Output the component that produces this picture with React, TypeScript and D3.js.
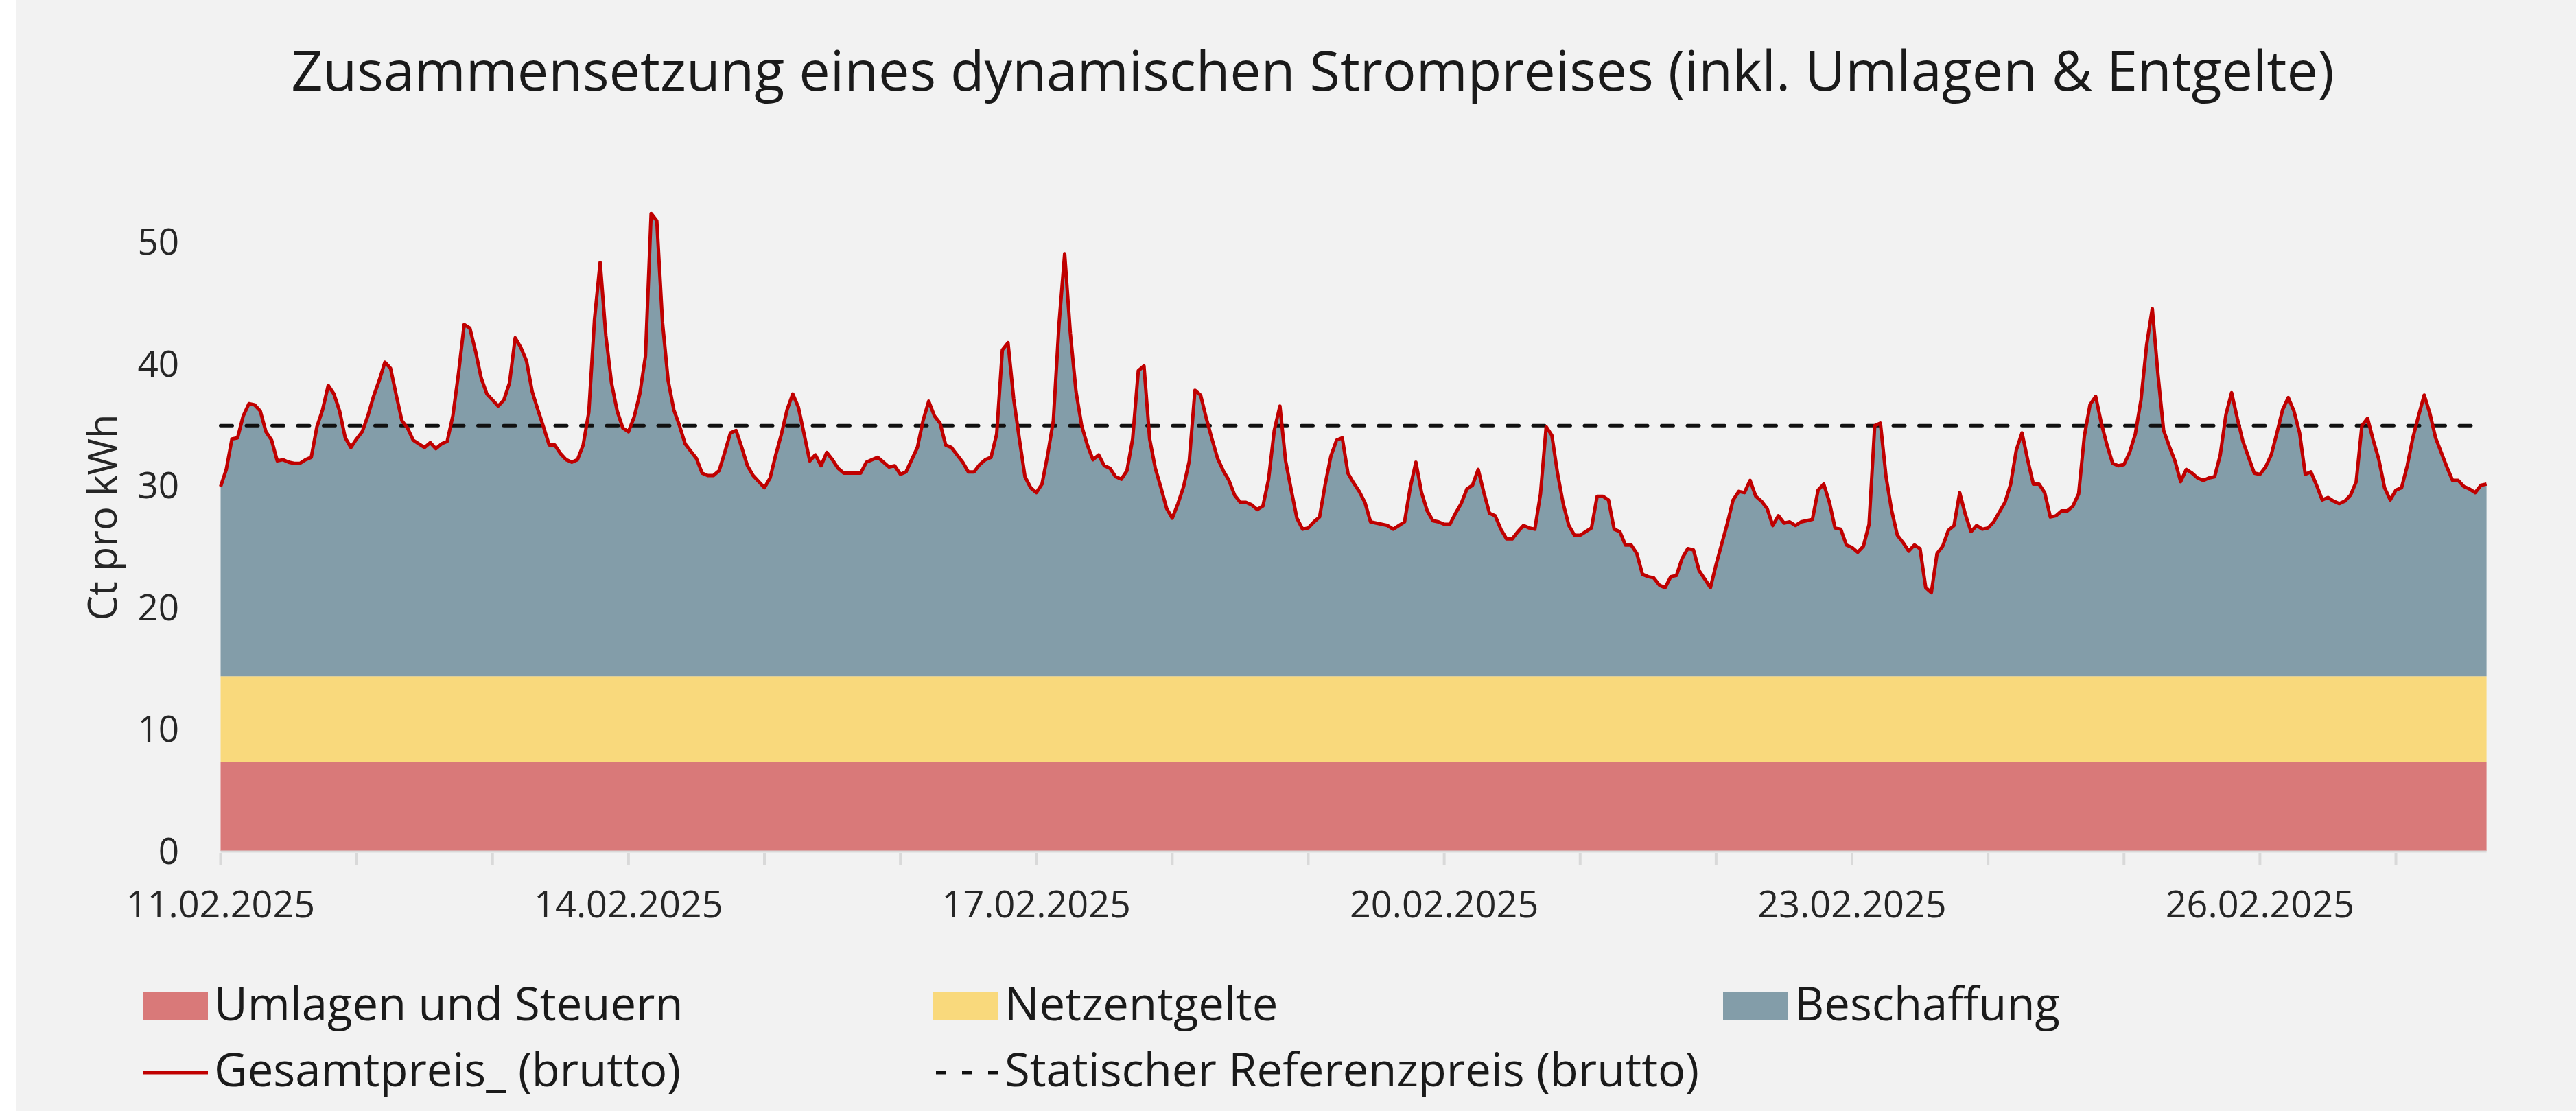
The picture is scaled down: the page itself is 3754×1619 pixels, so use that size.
import * as d3 from "d3";

const WIDTH = 3754;
const HEIGHT = 1619;
const PLOT = { left: 321.5, right: 3623.6, top: 352, bottom: 1240 };
const FONT = "'Open Sans', 'Noto Sans', sans-serif";

const START = new Date(2025, 1, 11, 0);

const SERIES_NAMES = [
  "Umlagen und Steuern",
  "Netzentgelte",
  "Beschaffung",
  "Gesamtpreis_ (brutto)",
  "Statischer Referenzpreis (brutto)",
];
const COLORS = ["#d97979", "#f9d97c", "#839da9", "#c00000", "#111111"];

// Ct/kWh, constant over the period
const umlagenUndSteuern = 7.3;
const netzentgelte = 7.05;
const referenzpreis = 34.9;

// hourly total price (Ct/kWh), 11.02.2025 00:00 .. 27.02.2025 16:00
const gesamtpreis = [
  // 11.02
  29.9, 31.3, 33.8, 33.9, 35.7, 36.7, 36.6, 36.1, 34.4, 33.7, 32.0, 32.1,
  31.9, 31.8, 31.8, 32.1, 32.3, 34.8, 36.2, 38.2, 37.5, 36.1, 33.9, 33.1,
  // 12.02
  33.8, 34.4, 35.7, 37.3, 38.6, 40.1, 39.6, 37.4, 35.3, 34.7, 33.7, 33.4,
  33.1, 33.5, 33.0, 33.4, 33.6, 35.7, 39.2, 43.2, 42.9, 41.0, 38.8, 37.5,
  // 13.02
  37.0, 36.5, 37.0, 38.4, 42.1, 41.3, 40.2, 37.7, 36.2, 34.8, 33.3, 33.3,
  32.6, 32.1, 31.9, 32.1, 33.3, 36.0, 43.6, 48.3, 42.3, 38.4, 36.1, 34.7,
  // 14.02
  34.4, 35.6, 37.5, 40.6, 52.3, 51.7, 43.4, 38.6, 36.2, 34.9, 33.4, 32.8,
  32.2, 31.0, 30.8, 30.8, 31.2, 32.7, 34.3, 34.5, 33.1, 31.6, 30.8, 30.3,
  // 15.02
  29.8, 30.6, 32.5, 34.2, 36.2, 37.5, 36.4, 34.2, 32.0, 32.5, 31.6, 32.7,
  32.1, 31.4, 31.0, 31.0, 31.0, 31.0, 31.9, 32.1, 32.3, 31.9, 31.5, 31.6,
  // 16.02
  30.9, 31.1, 32.1, 33.1, 35.3, 36.9, 35.7, 35.1, 33.3, 33.1, 32.5, 31.9,
  31.1, 31.1, 31.7, 32.1, 32.3, 34.2, 41.1, 41.7, 37.1, 33.8, 30.7, 29.8,
  // 17.02
  29.4, 30.1, 32.5, 35.3, 43.2, 49.0, 42.5, 37.7, 34.9, 33.3, 32.1, 32.5,
  31.6, 31.4, 30.7, 30.5, 31.2, 33.8, 39.4, 39.8, 33.8, 31.4, 29.8, 28.1,
  // 18.02
  27.3, 28.5, 29.9, 32.0, 37.8, 37.4, 35.5, 33.8, 32.2, 31.2, 30.4, 29.2,
  28.6, 28.6, 28.4, 28.0, 28.3, 30.5, 34.5, 36.5, 32.0, 29.6, 27.3, 26.4,
  // 19.02
  26.5, 27.0, 27.4, 30.1, 32.4, 33.7, 33.9, 31.0, 30.2, 29.5, 28.6, 27.0,
  26.9, 26.8, 26.7, 26.4, 26.7, 27.0, 29.8, 31.9, 29.4, 27.9, 27.1, 27.0,
  // 20.02
  26.8, 26.8, 27.7, 28.5, 29.7, 30.0, 31.3, 29.4, 27.7, 27.5, 26.4, 25.6,
  25.6, 26.2, 26.7, 26.5, 26.4, 29.3, 34.8, 34.1, 31.0, 28.5, 26.7, 25.9,
  // 21.02
  25.9, 26.2, 26.5, 29.1, 29.1, 28.8, 26.4, 26.2, 25.1, 25.1, 24.4, 22.7,
  22.5, 22.4, 21.8, 21.6, 22.5, 22.6, 24.0, 24.8, 24.7, 23.0, 22.3, 21.6,
  // 22.02
  23.5, 25.2, 26.9, 28.8, 29.5, 29.4, 30.4, 29.1, 28.7, 28.1, 26.7, 27.5,
  26.9, 27.0, 26.7, 27.0, 27.1, 27.2, 29.6, 30.1, 28.6, 26.5, 26.4, 25.1,
  // 23.02
  24.9, 24.5, 25.0, 26.8, 34.9, 35.1, 30.7, 27.9, 25.9, 25.3, 24.6, 25.1,
  24.8, 21.6, 21.2, 24.4, 25.0, 26.3, 26.7, 29.4, 27.6, 26.2, 26.7, 26.4,
  // 24.02
  26.5, 27.0, 27.8, 28.6, 30.1, 32.9, 34.3, 32.1, 30.1, 30.1, 29.4, 27.4,
  27.5, 27.9, 27.9, 28.3, 29.3, 34.0, 36.6, 37.3, 35.1, 33.3, 31.8, 31.6,
  // 25.02
  31.7, 32.7, 34.2, 37.0, 41.5, 44.5, 39.1, 34.5, 33.2, 32.0, 30.3, 31.3,
  31.0, 30.6, 30.4, 30.6, 30.7, 32.5, 35.8, 37.6, 35.5, 33.6, 32.3, 31.0,
  // 26.02
  30.9, 31.5, 32.5, 34.3, 36.2, 37.2, 36.1, 34.3, 30.9, 31.1, 30.0, 28.8,
  29.0, 28.7, 28.5, 28.7, 29.2, 30.3, 34.9, 35.5, 33.7, 32.1, 29.8, 28.8,
  // 27.02
  29.6, 29.8, 31.6, 33.9, 35.7, 37.4, 35.9, 33.9, 32.7, 31.5, 30.4, 30.4,
  29.9, 29.7, 29.4, 30.0, 30.1,
];

const Y_TICKS = [0, 10, 20, 30, 40, 50];
const LABEL_EVERY_DAYS = 3;

const times = gesamtpreis.map((_, i) => d3.timeHour.offset(START, i));

type Row = { date: Date; umlagen: number; netz: number; beschaffung: number };

const rows: Row[] = times.map((date, i) => ({
  date,
  umlagen: umlagenUndSteuern,
  netz: netzentgelte,
  beschaffung: gesamtpreis[i] - umlagenUndSteuern - netzentgelte,
}));

const formatDate = d3.timeFormat("%d.%m.%Y");

export default function App() {
  const lastTime = times[times.length - 1];

  const xScale = d3
    .scaleTime()
    .domain([times[0], lastTime])
    .range([PLOT.left, PLOT.right]);

  const yScale = d3
    .scaleLinear()
    .domain([0, 50])
    .range([PLOT.bottom, PLOT.top]);

  const stacked = d3
    .stack<Row>()
    .keys(["umlagen", "netz", "beschaffung"])(rows);

  const areaGen = d3
    .area<d3.SeriesPoint<Row>>()
    .x((d) => xScale(d.data.date))
    .y0((d) => yScale(d[0]))
    .y1((d) => yScale(d[1]));

  const lineGen = d3
    .line<number>()
    .x((_, i) => xScale(times[i]))
    .y((d) => yScale(d));

  // one tick per day, only inside the data range
  const dayTicks = d3.timeDay.range(START, d3.timeHour.offset(lastTime, 1));

  const legendRow1 = 1487;
  const legendRow2 = 1583;
  const legendCols = [208, 1360, 2511];
  const legendFont = 67;

  return (
    <div style={{ position: "absolute", left: 0, top: 0 }}>
      <svg width={WIDTH} height={HEIGHT} style={{ display: "block", background: "#ffffff" }}>
        <rect x={23} y={0} width={WIDTH - 23} height={HEIGHT} fill="#f2f2f2" />

        {/* Title */}
        <text
          x={1913}
          y={132}
          textAnchor="middle"
          fontFamily={FONT}
          fontSize={81}
          fill="#1a1a1a"
        >
          Zusammensetzung eines dynamischen Strompreises (inkl. Umlagen &amp; Entgelte)
        </text>

        {/* Stacked areas */}
        {stacked.map((s, i) => (
          <path key={s.key} d={areaGen(s) ?? ""} fill={COLORS[i]} />
        ))}

        {/* x axis line + ticks */}
        <line
          x1={PLOT.left}
          x2={PLOT.right}
          y1={PLOT.bottom + 1}
          y2={PLOT.bottom + 1}
          stroke="#d9d9d9"
          strokeWidth={3}
        />
        {dayTicks.map((t, i) => (
          <line
            key={i}
            x1={xScale(t)}
            x2={xScale(t)}
            y1={PLOT.bottom + 3}
            y2={PLOT.bottom + 21}
            stroke="#d9d9d9"
            strokeWidth={4}
          />
        ))}
        {dayTicks
          .filter((_, i) => i % LABEL_EVERY_DAYS === 0)
          .map((t, i) => (
            <text
              key={i}
              x={xScale(t)}
              y={1337}
              textAnchor="middle"
              fontFamily={FONT}
              fontSize={54}
              fill="#262626"
            >
              {formatDate(t)}
            </text>
          ))}

        {/* y axis labels */}
        {Y_TICKS.map((v) => (
          <text
            key={v}
            x={261}
            y={yScale(v)}
            dy="0.36em"
            textAnchor="end"
            fontFamily={FONT}
            fontSize={53}
            fill="#262626"
          >
            {v}
          </text>
        ))}
        <text
          transform={`translate(170, 754) rotate(-90)`}
          textAnchor="middle"
          fontFamily={FONT}
          fontSize={58}
          fill="#262626"
        >
          Ct pro kWh
        </text>

        {/* Reference price */}
        <line
          x1={PLOT.left}
          x2={PLOT.right - 12}
          y1={yScale(referenzpreis)}
          y2={yScale(referenzpreis)}
          stroke={COLORS[4]}
          strokeWidth={5}
          strokeDasharray="17 20.5"
          strokeLinecap="round"
        />

        {/* Total price */}
        <path
          d={lineGen(gesamtpreis) ?? ""}
          fill="none"
          stroke={COLORS[3]}
          strokeWidth={5}
          strokeLinejoin="round"
        />

        {/* Legend */}
        {[0, 1, 2].map((i) => (
          <g key={i}>
            <rect x={legendCols[i]} y={legendRow1 - 41} width={95} height={41} fill={COLORS[i]} />
            <text
              x={legendCols[i] + 104}
              y={legendRow1}
              fontFamily={FONT}
              fontSize={legendFont}
              fill="#1a1a1a"
            >
              {SERIES_NAMES[i]}
            </text>
          </g>
        ))}
        <line
          x1={legendCols[0]}
          x2={legendCols[0] + 95}
          y1={legendRow2 - 20}
          y2={legendRow2 - 20}
          stroke={COLORS[3]}
          strokeWidth={5}
        />
        <text x={legendCols[0] + 104} y={legendRow2} fontFamily={FONT} fontSize={legendFont} fill="#1a1a1a">
          {SERIES_NAMES[3]}
        </text>
        <line
          x1={legendCols[1] + 4}
          x2={legendCols[1] + 95}
          y1={legendRow2 - 20}
          y2={legendRow2 - 20}
          stroke={COLORS[4]}
          strokeWidth={5}
          strokeDasharray="14 24"
        />
        <text x={legendCols[1] + 104} y={legendRow2} fontFamily={FONT} fontSize={legendFont} fill="#1a1a1a">
          {SERIES_NAMES[4]}
        </text>
      </svg>
    </div>
  );
}
